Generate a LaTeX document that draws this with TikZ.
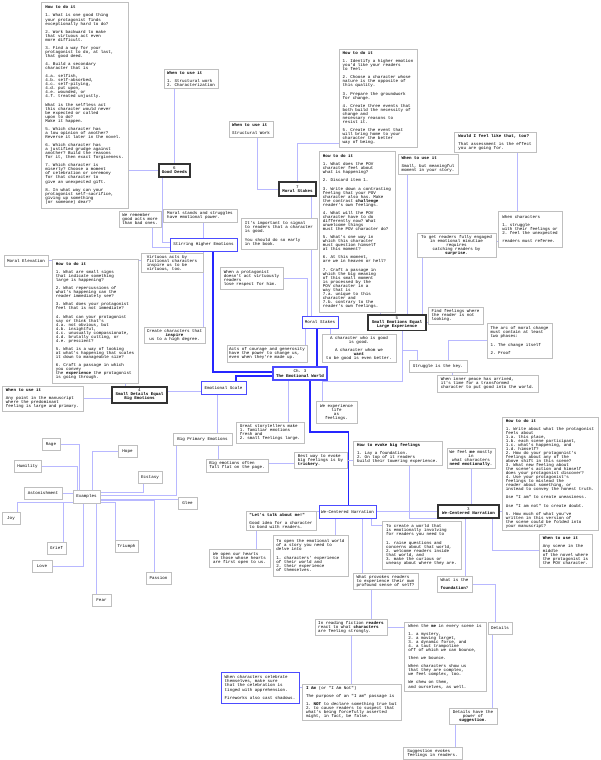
\documentclass[tikz,border=0pt]{standalone}
\usepackage{fontspec}
\setmonofont{Liberation Mono}
\usetikzlibrary{backgrounds}
\newcommand\mapfont{\ttfamily\fontsize{4.2pt}{4.05pt}\selectfont}
\newcommand\blankln{\\[4.05pt]}
\tikzset{
  note/.style={draw=gray!50, line width=0.9pt, fill=white, font=\mapfont, align=left,
    inner sep=2pt, outer sep=0pt, anchor=north west},
  chapter/.style={note, draw=black!80, line width=1.3pt, align=center},
  branch/.style={note, draw=blue!70, line width=1pt, align=center},
  wh/.style 2 args={minimum width=#1pt, minimum height=#2pt},
  link/.style={draw=blue!28, line width=0.9pt},
  trunk/.style={draw=blue!85, line width=1.2pt}
}

\begin{document}
\begin{tikzpicture}[x=1pt, y=-1pt]
\useasboundingbox (0,0) rectangle (600,760);

% chapter 6
\node[note, wh={87}{206}] (howDeeds) at (41,2) {\textbf{How to do it}\blankln
1. What is one good thing\\your protagonist finds\\exceptionally hard to do?\blankln
2. Work backward to make\\that virtuous act even\\more difficult.\blankln
3. Find a way for your\\protagonist to do, at last,\\that good deed.\blankln
4. Build a secondary\\character that is\blankln
4.a. selfish,\\4.b. self-absorbed,\\4.c. self-pitying,\\4.d. put upon,\\4.e. wounded, or\\4.f. treated unjustly.\blankln
What is the selfless act\\this character would never\\be expected or called\\upon to do?\\Make it happen.\blankln
5. Which character has\\a low opinion of another?\\Reverse it later in the novel.\blankln
6. Which character has\\a justified grudge against\\another? Build the reasons\\for it, then exact forgiveness.\blankln
7. Which character is\\miserly? Choose a moment\\of celebration or ceremony\\for that character to\\give an unexpected gift.\blankln
8. In what way can your\\protagonist self-sacrifice,\\giving up something\\(or someone) dear?};
\node[note, wh={54}{19}] (useDeeds) at (164,69) {\textbf{When to use it}\blankln 1. Structural work\\2. Characterization};
\node[chapter, wh={31}{13}] (deeds) at (159,164) {6\\\textbf{Good Deeds}};
\node[note, wh={42}{16}] (remember) at (119,211) {We remember\\good acts more\\than bad ones.};
\node[note, wh={74}{13}] (stands) at (163,209) {Moral stands and struggles\\have emotional power.};
\node[branch, wh={67}{13}] (stirring) at (170,238) {Stirring Higher Emotions};
\node[note, wh={44}{11}] (elevation) at (4,255) {Moral Elevation};
\node[note, wh={62}{18}] (virtuous) at (141,253) {Virtuous acts by\\fictional characters\\inspire us to be\\virtuous, too.};
\node[note, align=center, wh={61}{16}] (inspire) at (144,327) {Create characters that\\\textbf{inspire}\\us to a high degree.};

% chapter 4
\node[note, wh={86}{124}] (howDetails) at (52,259) {\textbf{How to do it}\blankln
1. What are small signs\\that indicate something\\large is happening?\blankln
2. What repercussions of\\what's happening can the\\reader immediately see?\blankln
3. What does your protagonist\\feel that is not immediate?\blankln
4. What can your protagonist\\say or think that's\\4.a. not obvious, but\\4.b. insightful,\\4.c. unusually compassionate,\\4.d. brutally cutting, or\\4.e. prescient?\blankln
5. What is a way of looking\\at what's happening that scales\\it down to manageable size?\blankln
6. Craft a passage in which\\you convey\\the \textbf{experience} the protagonist\\is going through.};
\node[note, wh={81}{25}] (useDetails) at (2,386) {\textbf{When to use it}\blankln Any point in the manuscript\\where the predominant\\feeling is large and primary.};
\node[chapter, wh={55}{16}] (details4) at (112,387) {4\\\textbf{Small Details Equal}\\\textbf{Big Emotions}};

% chapter 7
\node[note, wh={44}{16}] (useStakes) at (229,121) {\textbf{When to use it}\blankln Structural Work};
\node[chapter, wh={37}{14}] (stakes7) at (279,182) {7\\\textbf{Moral Stakes}};
\node[note, wh={78}{98}] (howStakes) at (339,49) {\textbf{How to do it}\blankln
1. Identify a higher emotion\\you'd like your readers\\to feel.\blankln
2. Choose a character whose\\nature is the opposite of\\this quality.\blankln
3. Prepare the groundwork\\for change.\blankln
4. Create three events that\\both build the necessity of\\change and\\necessary reasons to\\resist it.\blankln
5. Create the event that\\will bring home to your\\character the better\\way of being.};
\node[note, wh={76}{161}] (howSmall) at (319,151) {\textbf{How to do it}\blankln
1. What does the POV\\character feel about\\what is happening?\blankln
2. Discard item 1.\blankln
3. Write down a contrasting\\feeling that your POV\\character also has. Make\\the contrast \textbf{challenge}\\reader's own feelings.\blankln
4. What will the POV\\character have to do\\differently now? What\\unwelcome things\\must the POV character do?\blankln
5. What's one way in\\which this character\\must question himself\\at this moment?\blankln
6. At this moment,\\are we in heaven or hell?\blankln
7. Craft a passage in\\which the big meaning\\of this small moment\\is processed by the\\POV character in a\\way that is\\7.a. unique to this\\character and\\7.b. contrary to the\\reader's own feelings.};
\node[note, wh={76}{31}] (signal) at (241,218) {It's important to signal\\to readers that a character\\is good.\blankln You should do so early\\in the book.};
\node[note, wh={63}{22}] (respect) at (220,267) {When a protagonist\\doesn't act virtuously\\readers\\lose respect for him.};
\node[branch, wh={36}{12}] (moralStakes) at (302,316) {Moral Stakes};
\node[note, wh={80}{17}] (courage) at (227,345) {Acts of courage and generosity\\have the power to change us,\\even when they're made up.};
\node[note, align=center, wh={74}{28}] (wantGood) at (322,334) {A character who is good\\is good.\blankln A character whom we\\\textbf{want}\\to be good is even better.};
\node[branch, line width=1.4pt, wh={54}{13}] (ch3) at (273,367) {Ch. 3\\\textbf{The Emotional World}};

% chapter 5
\node[note, wh={60}{19}] (useSmall) at (398,154) {\textbf{When to use it}\blankln Small, but meaningful\\moment in your story.};
\node[note, wh={82}{20}] (feelToo) at (454,132) {\textbf{Would I feel like that, too?}\blankln That assessment is the effect\\you are going for.};
\node[note, wh={64}{36}] (referee) at (498,211) {When characters\blankln 1. struggle\\with their feelings or\\2. feel the unexpected\blankln readers must referee.};
\node[note, align=center, wh={79}{24}] (surprise) at (417,233) {To get readers fully engaged\\in emotional minutiae\\requires\\catching readers by\\\textbf{surprise}.};
\node[chapter, wh={58}{15}] (small5) at (368,315) {5\\\textbf{Small Emotions Equal}\\\textbf{Large Experience}};
\node[note, wh={55}{17}] (notLooking) at (428,307) {Find feelings where\\the reader is not\\looking.};
\node[note, wh={65}{35}] (arc) at (487,323) {The arc of moral change\\must contain at least\\two phases:\blankln 1. The change itself\blankln 2. Proof};
\node[note, wh={58}{12}] (struggle) at (409,360) {Struggle is the key.};
\node[note, wh={101}{17}] (innerPeace) at (437,375) {When inner peace has arrived,\\it's time for a transformed\\character to put good into the world.};
\coordinate (j5) at (402,381);
\coordinate (js) at (402,350);

% emotional scale
\node[branch, wh={45}{13}] (scale) at (201,381) {Emotional Scale};
\node[note, wh={68}{21}] (storytellers) at (236,422) {Great storytellers make\\1. familiar emotions\\fresh and\\2. small feelings large.};
\node[note, align=center, wh={41}{22}] (lifeFeel) at (316,401) {We experience\\life\\as\\feelings.};
\node[note, wh={59}{12}] (bigPrimary) at (173,433) {Big Primary Emotions};
\node[note, wh={62}{13}] (fallFlat) at (206,459) {Big emotions often\\fall flat on the page.};
\node[note, wh={53}{15}] (trickery) at (294,452) {Best way to evoke\\big feelings is by\\\textbf{trickery}.};
\node[note, wh={89}{24}] (howEvoke) at (353,441) {\textbf{How to evoke big feelings}\blankln 1. Lay a foundation.\\2. On top of it readers\\build their towering experience.};
\node[note, wh={27}{13}] (examples) at (73,490) {Examples};
\foreach \nm/\txt/\x/\y/\w in {rage/Rage/42/438/18, hope/Hope/118/445/19,
    humility/Humility/14/460/27, ecstasy/Ecstasy/138/471/24,
    astonish/Astonishment/24/487/38, glee/Glee/178/497/19, joy/Joy/2/512/18,
    grief/Grief/47/542/19, love/Love/32/560/20, triumph/Triumph/115/540/23,
    fear/Fear/92/594/19, passion/Passion/146/572/25}
  \node[note, align=center, wh={\w}{12.5}] (\nm) at (\x,\y) {\txt};

% chapter 3
\node[note, align=center, wh={48}{19}] (needMe) at (447,448) {We feel \textbf{me} mostly\\in\\what characters\\\textbf{need emotionally}.};
\node[note, wh={96}{113}] (howMe) at (502,417) {\textbf{How to do it}\blankln
1. Write about what the protagonist\\feels about\\1.a. this place,\\1.b. each scene participant,\\1.c. what's happening, and\\1.d. himself?\\
2. How do your protagonist's\\feelings about any of the\\above shift in this scene?\\
3. What new feeling about\\the scene's action and himself\\does your protagonist discover?\\
4. Use your protagonist's\\feelings to mislead the\\reader about something, or\\instead to convey the honest truth.\blankln
Use "I am" to create uneasiness.\blankln
Use "I am not" to create doubt.\blankln
5. How much of what you've\\written in this version of\\the scene could be folded into\\your manuscript?};
\node[branch, wh={57}{13}] (weCentered) at (319,505) {We-Centered Narration};
\node[chapter, wh={61}{13}] (weCentered3) at (438,505) {3\\\textbf{We-Centered Narration}};
\node[note, wh={53}{33}] (useMe) at (539,534) {\textbf{When to use it}\blankln Any scene in the\\middle\\of the novel where\\the protagonist is\\the POV character.};
\node[note, wh={70}{19}] (talkMe) at (246,511) {\textbf{"Let's talk about me!"}\blankln Good idea for a character\\to bond with readers.};
\node[note, wh={61}{18}] (hearts) at (209,549) {We open our hearts\\to those whose hearts\\are first open to us.};
\node[note, wh={75}{41}] (openWorld) at (273,535) {To open the emotional world\\of a story you need to\\delve into\blankln 1. characters' experience\\of their world and\\2. their experience\\of themselves.};
\node[note, wh={79}{48}] (createWorld) at (382,521) {To create a world that\\is emotionally involving\\for readers you need to\blankln 1. raise questions and\\concerns about that world,\\2. welcome readers inside\\that world, and\\3. make the curious or\\uneasy about where they are.};
\node[note, wh={65}{16}] (provokes) at (353,573) {What provokes readers\\to experience their own\\profound sense of self?};
\node[note, wh={35}{16}] (foundation) at (437,576) {What is the\blankln\textbf{foundation}?};
\node[note, wh={72}{15}] (reading) at (315,619) {In reading fiction \textbf{readers}\\react to what \textbf{characters}\\are feeling strongly.};
\node[note, wh={82}{69}] (meScene) at (404,622) {When the \textbf{me} in every scene is\blankln 1. a mystery,\\2. a moving target,\\3. a dynamic force, and\\4. a taut trampoline\\off of which we can bounce,\blankln then we bounce.\blankln When characters show us\\that they are complex,\\we feel complex, too.\blankln We chew on them,\\and ourselves, as well.};
\node[note, wh={24}{12}] (detailsBox) at (488,622) {Details};
\node[branch, align=left, wh={78}{31}] (celebrate) at (221,672) {When characters celebrate\\themselves, make sure\\that the celebration is\\tinged with apprehension.\blankln Fireworks also cast shadows.};
\node[note, wh={99}{36}] (iAm) at (302,684) {\textbf{I Am} (or "I Am Not")\blankln The purpose of an "I am" passage is\blankln 1. \textbf{NOT} to declare something true but\\2. to cause readers to suspect that\\what's being forcefully asserted\\might, in fact, be false.};
\node[note, align=center, wh={48}{16}] (suggestion) at (449,708) {Details have the\\power of\\\textbf{suggestion}.};
\node[note, wh={59}{12}] (evokes) at (403,747) {Suggestion evokes\\feelings in readers.};

\begin{pgfonlayer}{background}
\fill[white] (0,0) rectangle (600,760);
% top left
\draw[link] (deeds.west -| howDeeds.east) -- (deeds.west);
\draw[link] (deeds.north) -- (deeds.north |- useDeeds.south);
\draw[link] ([xshift=-12.5pt]deeds.south) |- ([yshift=2.5pt]stirring.west);
\draw[link] ([xshift=12pt]remember.south) |- ([yshift=-2.5pt]stirring.west);
\draw[link] (stirring.north) -- (stirring.north |- stands.south);
\draw[link] ([xshift=-19pt]stirring.south) |- (elevation.east);
\draw[link] (stirring.south) -- (stirring.south |- inspire.north);
\draw[trunk] ([xshift=9.5pt]stirring.south) |- ([yshift=1.5pt]ch3.west);
\draw[link] ([xshift=-14.5pt]details4.north) -- ([xshift=-14.5pt]details4.north |- howDetails.south);
\draw[link] (useDetails.east) -- (useDetails.east -| details4.west);
\draw[link] ([yshift=4pt]details4.east) -- ([yshift=4pt]details4.east -| scale.west);
% top middle
\draw[link] ([xshift=6pt]useStakes.south) |- (stakes7.west);
\draw[link] ([yshift=4pt]howStakes.south west) -| (stakes7.north);
\draw[link] ([xshift=13.5pt]stakes7.south) -- ([xshift=13.5pt]stakes7.south |- moralStakes.north);
\draw[link] (respect.east) -| ([xshift=-13pt]moralStakes.north);
\draw[link] ([xshift=3pt]moralStakes.south west) -- ([xshift=3pt]moralStakes.south west |- courage.north);
\draw[link] ([xshift=10pt]moralStakes.south) -- ([xshift=10pt]moralStakes.south |- wantGood.north);
\draw[trunk] ([xshift=-3pt]moralStakes.south) -- ([xshift=-3pt]moralStakes.south |- ch3.north);
\draw[link] ([xshift=-12pt]ch3.south) -- ([xshift=-12pt]ch3.south |- storytellers.north);
\draw[link] ([xshift=22pt]ch3.south) -- ([xshift=22pt]ch3.south |- lifeFeel.north);
\draw[link] (small5.south -| j5) -- (j5) -| ([xshift=22pt]ch3.south);
\draw[link] (js) -| ([xshift=-21pt]struggle.north);
\draw[trunk] ([yshift=-2.5pt]ch3.west) -| ([xshift=12.5pt]scale.north);
\draw[trunk] ([xshift=10pt]ch3.south) -- ++(0,52) -| ([xshift=1pt]weCentered.north);
% top right
\draw[link] ([xshift=10pt]small5.north) -- ([xshift=10pt]small5.north |- useSmall.south);
\draw[link] ([xshift=25pt]small5.north) -- ([xshift=25pt]small5.north |- surprise.south);
\draw[link] ([xshift=-17pt]small5.north) -- ([xshift=-17pt]small5.north |- howSmall.south);
\draw[link] ([xshift=-13pt]referee.north) -- ([xshift=-13pt]referee.north |- feelToo.south);
\draw[link] ([yshift=-12pt]referee.west) -- ([yshift=-12pt]referee.west -| surprise.east);
\draw[link] (small5.east) -- (small5.east -| notLooking.west);
\draw[link] (arc.west) -| ([xshift=10pt]struggle.north);
\draw[link] ([xshift=14pt]struggle.south) -- ([xshift=14pt]struggle.south |- innerPeace.north);
% lower middle
\draw[link] ([xshift=-6.5pt]scale.south) -- ([xshift=-6.5pt]scale.south |- bigPrimary.north);
\draw[link] ([xshift=15.5pt]bigPrimary.south) -- ([xshift=15.5pt]bigPrimary.south |- fallFlat.north);
\draw[link] ([yshift=2pt]fallFlat.east) -- ([yshift=2pt]fallFlat.east -| trickery.west);
\draw[link] (trickery.east) -- (trickery.east -| howEvoke.west);
\draw[link] ([xshift=11.5pt]howEvoke.south) -- ++(0,53) -| ([xshift=10.5pt]foundation.north);
\draw[link] (foundation.east) -| ([xshift=-5pt]detailsBox.north);
\draw[link] ([xshift=-8pt]detailsBox.south) -- ([xshift=-8pt]detailsBox.south |- suggestion.north);
\draw[link] ([xshift=-18pt]suggestion.south) -- ([xshift=-18pt]suggestion.south |- evokes.north);
\draw[link] (needMe.south) -- (needMe.south |- weCentered3.north);
\draw[link] (weCentered3.east) -- (weCentered3.east -| howMe.west);
\draw[link] ([xshift=23.5pt]weCentered3.south) |- (useMe.west);
\draw[link] (weCentered.east) -- (weCentered3.west);
\draw[link] (talkMe.east |- weCentered.west) -- (weCentered.west);
\draw[link] ([xshift=-25pt]talkMe.south) -- ([xshift=-25pt]talkMe.south |- hearts.north);
\draw[link] ([xshift=-12pt]weCentered.south) -- ([xshift=-12pt]weCentered.south |- openWorld.north);
\draw[link] ([xshift=15pt]weCentered.south) -- ([xshift=15pt]weCentered.south |- provokes.north);
\draw[link] ([xshift=24pt]weCentered.south) |- ([yshift=20pt]createWorld.west);
\draw[link] ([xshift=-14.5pt]provokes.south) -- ([xshift=-14.5pt]provokes.south |- reading.north);
\draw[link] (reading.east) -- (reading.east -| meScene.west);
\draw[link] (reading.south) -- (reading.south |- iAm.north);
\draw[link] (celebrate.east) -- (celebrate.east -| iAm.west);
% examples
\draw[link] ([xshift=-26.5pt]bigPrimary.south) |- ([yshift=1.5pt]examples.east);
\draw[link] (rage.east) -| ([xshift=6pt]examples.north west);
\draw[link] (humility.east) -| ([xshift=4pt]examples.north west);
\draw[link] (hope.west) -| ([xshift=19pt]examples.north west);
\draw[link] ([xshift=-7pt]ecstasy.south) |- ([yshift=4.5pt]examples.east);
\draw[link] (astonish.east) -- (astonish.east -| examples.west);
\draw[link] ([yshift=4pt]glee.west) -- ([yshift=4pt]glee.west -| examples.east);
\draw[link] ([xshift=6pt]joy.north) |- ([yshift=-5.5pt]examples.west);
\draw[link] ([xshift=6.5pt]grief.north) |- ([yshift=-5.5pt]examples.west);
\draw[link] (love.east) -| ([xshift=10pt]examples.south west);
\draw[link] ([xshift=-11pt]triumph.north) |- ([yshift=-5.5pt]examples.east);
\draw[link] ([xshift=-5.5pt]fear.north) -- ([xshift=-5.5pt]fear.north |- examples.south);
\draw[link] ([xshift=-4.5pt]passion.north) |- ([yshift=-3.5pt]examples.east);
\end{pgfonlayer}
\end{tikzpicture}
\end{document}
